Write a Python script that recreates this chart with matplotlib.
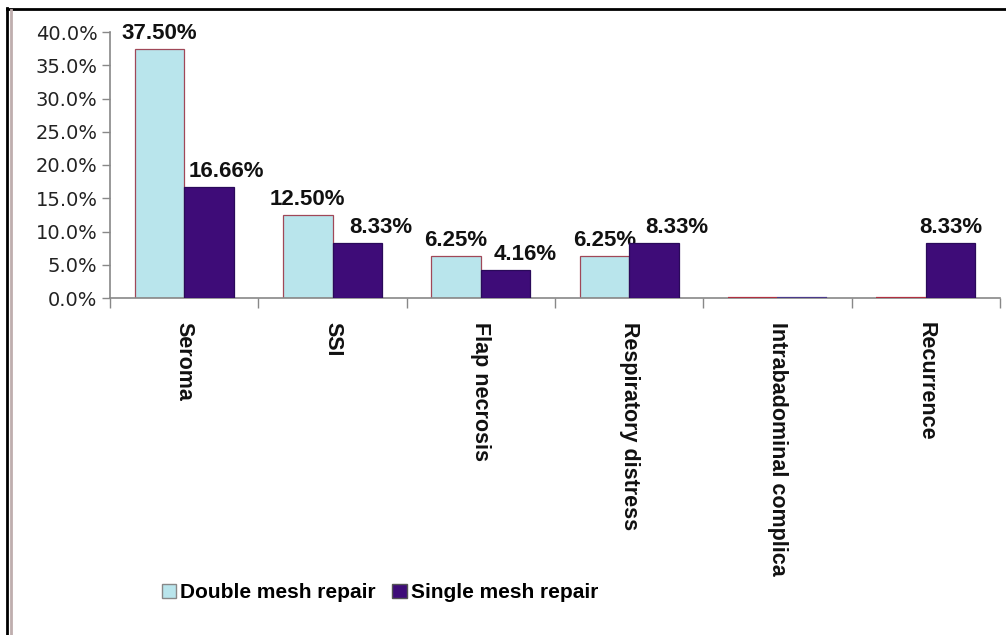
import matplotlib.pyplot as plt
import numpy as np
from matplotlib.patches import Rectangle
from matplotlib.lines import Line2D
from matplotlib.ticker import PercentFormatter

# -------- Data --------
categories = ["Seroma", "SSI", "Flap necrosis", "Respiratory distress",
              "Intrabadominal complica", "Recurrence"]
double_mesh = [37.50, 12.50, 6.25, 6.25, 0.0, 0.0]
single_mesh = [16.66, 8.33, 4.16, 8.33, 0.0, 8.33]
series_names = ["Double mesh repair", "Single mesh repair"]

# horizontal nudge (pixels) of the single-mesh value labels, as in the original
single_label_dx = [18, 24, 20, 23, 0, 0]

double_color = "#b9e5ec"
single_color = "#3e0c78"

W, H = 1006, 635
fig = plt.figure(figsize=(W / 100, H / 100), dpi=100)

# -------- Axes --------
ax = fig.add_axes([110 / W, 1 - 298 / H, (1000 - 110) / W, (298 - 32) / H])
x = np.arange(len(categories))
bw = 0.333
b1 = ax.bar(x - bw / 2, double_mesh, bw, color=double_color,
            edgecolor="#a04858", linewidth=0.9, zorder=2)
b2 = ax.bar(x + bw / 2, single_mesh, bw, color=single_color,
            edgecolor="#2a0a5a", linewidth=0.9, zorder=4)

# zero-height bars show as thin lines on the axis
for bars, col in ((b1, "#b03040"), (b2, "#4a3a8a")):
    for r in bars:
        if r.get_height() == 0:
            ax.plot([r.get_x(), r.get_x() + r.get_width()], [0, 0],
                    color=col, lw=1.6, zorder=5, solid_capstyle="butt")

# value labels (double-mesh labels sit under the single bars)
for bars, vals, dxs, z in ((b1, double_mesh, [0] * len(categories), 3),
                           (b2, single_mesh, single_label_dx, 6)):
    for r, v, dx in zip(bars, vals, dxs):
        if v > 0:
            ax.annotate(f"{v:.2f}%", (r.get_x() + r.get_width() / 2, v),
                        xytext=(dx, 5), textcoords="offset pixels",
                        ha="center", va="bottom", fontsize=16,
                        fontweight="bold", family="Liberation Sans",
                        color="#111111", zorder=z)

ax.set_xlim(-0.5, len(categories) - 0.5)
ax.set_ylim(0, 40)
ax.set_yticks(np.arange(0, 41, 5))
ax.yaxis.set_major_formatter(PercentFormatter(decimals=1))
ax.tick_params(axis="y", labelsize=14, length=6, width=1,
               color="#888888", labelcolor="#222222", pad=3)

# category ticks at group boundaries, labels rotated
ax.set_xticks(np.arange(len(categories) + 1) - 0.5)
ax.set_xticklabels([])
ax.tick_params(axis="x", length=7, width=1, color="#888888")
for i, c in enumerate(categories):
    ax.text(i, -0.09, c, transform=ax.get_xaxis_transform(),
            rotation=-90, ha="center", va="top", fontsize=15.5,
            fontweight="bold", family="Liberation Sans", color="#111111")

for s in ("top", "right"):
    ax.spines[s].set_visible(False)
for s in ("left", "bottom"):
    ax.spines[s].set_color("#888888")
    ax.spines[s].set_linewidth(1.2)

# -------- Legend --------
handles = [Rectangle((0, 0), 1, 1, facecolor=double_color, edgecolor="#888888"),
           Rectangle((0, 0), 1, 1, facecolor=single_color, edgecolor="#555555")]
fig.legend(handles, series_names, loc="center", bbox_to_anchor=(380 / W, 1 - 593 / H),
           ncol=2, frameon=False, prop={"family": "Liberation Sans", "weight": "bold",
                                        "size": 15},
           handlelength=0.68, handleheight=0.68, handletextpad=0.2, columnspacing=0.8)

# -------- Outer frame --------
fig.add_artist(Line2D([7 / W, 7 / W], [0, 1 - 8 / H], color="black", lw=2,
                      transform=fig.transFigure))
fig.add_artist(Line2D([7 / W, 1], [1 - 9 / H, 1 - 9 / H], color="black", lw=2,
                      transform=fig.transFigure))
fig.add_artist(Line2D([10.5 / W, 10.5 / W], [0, 1 - 10 / H], color="#bfaeae", lw=2,
                      transform=fig.transFigure))

fig.savefig("out.png", dpi=100, facecolor="white")
